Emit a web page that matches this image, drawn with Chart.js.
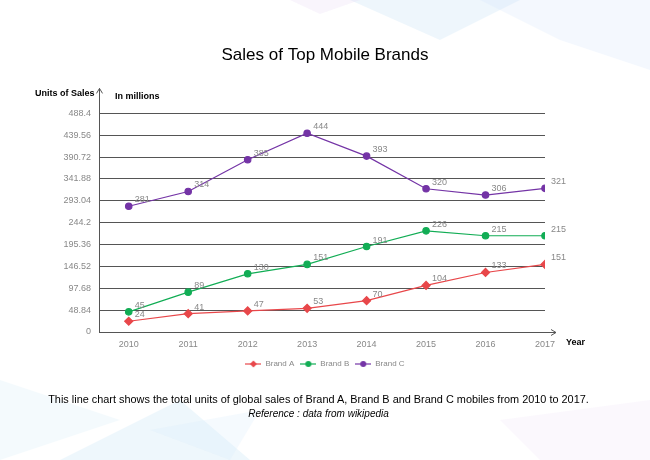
<!DOCTYPE html>
<html><head><meta charset="utf-8">
<script src="https://cdn.jsdelivr.net/npm/chart.js@4"></script>
<style>
html,body{margin:0;padding:0;background:#fff;}
#wrap{position:relative;width:650px;height:460px;overflow:hidden;}
#c{position:absolute;left:0;top:0;}
.lbl{position:absolute;font-family:"Liberation Sans",Arial,sans-serif;color:#000;white-space:nowrap;}
</style></head><body>
<div id="wrap">
<canvas id="c" width="650" height="460"></canvas>
<div class="lbl" style="left:35px;top:88px;font-size:9px;font-weight:bold;">Units of Sales</div>
<div class="lbl" style="left:115px;top:91px;font-size:9px;font-weight:bold;">In millions</div>
<div class="lbl" style="left:566px;top:337px;font-size:9px;font-weight:bold;">Year</div>
<div class="lbl" style="left:0;width:637px;text-align:center;top:393px;font-size:10.9px;">This line chart shows the total units of global sales of Brand A, Brand B and Brand C mobiles from 2010 to 2017.</div>
<div class="lbl" style="left:0;width:637px;text-align:center;top:408px;font-size:10px;font-style:italic;">Reference : data from wikipedia</div>
</div>
<script>
const years = [2010, 2011, 2012, 2013, 2014, 2015, 2016, 2017];
const brandA = [24, 41, 47, 53, 70, 104, 133, 151];
const brandB = [45, 89, 130, 151, 191, 226, 215, 215];
const brandC = [281, 314, 385, 444, 393, 320, 306, 321];
const seriesNames = ['Brand A', 'Brand B', 'Brand C'];
const yTicks = [0, 48.84, 97.68, 146.52, 195.36, 244.2, 293.04, 341.88, 390.72, 439.56, 488.4];
const yTickLabels = ['0', '48.84', '97.68', '146.52', '195.36', '244.2', '293.04', '341.88', '390.72', '439.56', '488.4'];

const colors = ['#e8474a', '#12ad55', '#7434a6'];
const styles = ['rectRot', 'circle', 'circle'];

function makeIcon(color, style) {
  const c = document.createElement('canvas');
  c.width = 16; c.height = 8;
  const x = c.getContext('2d');
  x.strokeStyle = color; x.lineWidth = 1.2;
  x.beginPath(); x.moveTo(0, 4); x.lineTo(16, 4); x.stroke();
  x.fillStyle = color;
  x.beginPath();
  if (style === 'rectRot') { x.moveTo(8, 0.5); x.lineTo(11.5, 4); x.lineTo(8, 7.5); x.lineTo(4.5, 4); x.closePath(); }
  else { x.arc(8, 4, 3, 0, Math.PI * 2); }
  x.fill();
  return c;
}
const icons = colors.map((c, i) => makeIcon(c, styles[i]));

function toPoints(arr) { return years.map((y, i) => ({ x: y, y: arr[i] })); }
const allSeries = [brandA, brandB, brandC];

const bgPlugin = {
  id: 'bg',
  beforeDraw(chart) {
    const ctx = chart.ctx;
    ctx.save();
    ctx.fillStyle = '#ffffff';
    ctx.fillRect(0, 0, chart.width, chart.height);
    const polys = [
      ['rgba(200,225,245,0.30)', [[350,0],[520,0],[440,40]]],
      ['rgba(215,230,250,0.28)', [[480,0],[650,0],[650,70],[560,40]]],
      ['rgba(235,220,245,0.28)', [[290,0],[360,0],[320,14]]],
      ['rgba(220,240,250,0.30)', [[0,380],[120,420],[0,460]]],
      ['rgba(200,228,245,0.30)', [[60,460],[180,400],[250,460]]],
      ['rgba(215,235,250,0.25)', [[150,430],[260,410],[230,460]]],
      ['rgba(235,225,245,0.22)', [[500,420],[650,400],[650,460],[540,460]]]
    ];
    polys.forEach(([col, pts]) => {
      ctx.fillStyle = col;
      ctx.beginPath();
      pts.forEach((p, i) => i ? ctx.lineTo(p[0], p[1]) : ctx.moveTo(p[0], p[1]));
      ctx.closePath(); ctx.fill();
    });
    ctx.restore();
  },
  afterDatasetsDraw(chart) {
    const ctx = chart.ctx;
    const a = chart.chartArea;
    ctx.save();
    ctx.strokeStyle = '#555';
    ctx.lineWidth = 1;
    const x0 = Math.round(a.left) + 0.5, y0 = Math.round(a.bottom) + 0.5;
    ctx.beginPath();
    ctx.moveTo(x0, y0); ctx.lineTo(x0, a.top - 25);
    ctx.moveTo(x0 - 3, a.top - 20); ctx.lineTo(x0, a.top - 25); ctx.lineTo(x0 + 3, a.top - 20);
    ctx.moveTo(x0, y0); ctx.lineTo(a.right + 11, y0);
    ctx.moveTo(a.right + 6, y0 - 3); ctx.lineTo(a.right + 11, y0); ctx.lineTo(a.right + 6, y0 + 3);
    ctx.stroke();
    ctx.fillStyle = '#888';
    ctx.font = '9px "Liberation Sans", Arial, sans-serif';
    ctx.textBaseline = 'alphabetic';
    chart.data.datasets.forEach((ds, di) => {
      const meta = chart.getDatasetMeta(di);
      meta.data.forEach((p, i) => {
        ctx.fillText(String(allSeries[di][i]), p.x + 6, p.y - 4);
      });
    });
    ctx.restore();
  }
};

new Chart(document.getElementById('c'), {
  type: 'line',
  data: {
    datasets: seriesNames.map((n, i) => ({
      label: n,
      data: toPoints(allSeries[i]),
      borderColor: colors[i],
      backgroundColor: colors[i],
      borderWidth: 1.2,
      pointStyle: styles[i],
      pointRadius: styles[i] === 'rectRot' ? 4 : 3.2,
      pointHoverRadius: 4,
      tension: 0,
      fill: false
    }))
  },
  options: {
    responsive: false,
    animation: false,
    layout: { padding: { top: 45, left: 0, right: 0, bottom: 82 } },
    plugins: {
      title: {
        display: true,
        text: 'Sales of Top Mobile Brands',
        color: '#000',
        font: { family: '"Liberation Sans", Arial, sans-serif', size: 17, weight: 'normal' },
        padding: { top: 0, bottom: 48 }
      },
      legend: {
        position: 'bottom',
        labels: {
          usePointStyle: true,
          pointStyleWidth: 16,
          boxHeight: 8,
          padding: 6,
          color: '#888',
          font: { family: '"Liberation Sans", Arial, sans-serif', size: 8 },
          generateLabels(chart) {
            return Chart.defaults.plugins.legend.labels.generateLabels(chart).map((l, i) => ({ ...l, pointStyle: icons[i], fontColor: '#888' }));
          }
        }
      },
      tooltip: { enabled: false }
    },
    scales: {
      x: {
        type: 'linear',
        min: 2009.5,
        max: 2017,
        afterBuildTicks(s) { s.ticks = years.map(v => ({ value: v })); },
        afterFit(s) { s.height = 22; },
        grid: { display: false, drawTicks: false },
        border: { display: false },
        ticks: {
          color: '#888',
          padding: 7,
          maxRotation: 0,
          autoSkip: false,
          font: { family: '"Liberation Sans", Arial, sans-serif', size: 9 },
          callback: (v) => String(v)
        }
      },
      y: {
        min: 0,
        max: 488.4,
        afterBuildTicks(s) { s.ticks = yTicks.map(v => ({ value: v })); },
        afterFit(s) { s.width = 99; },
        grid: { color: '#555', lineWidth: 1, drawTicks: false },
        border: { display: false },
        ticks: {
          color: '#888',
          padding: 8,
          font: { family: '"Liberation Sans", Arial, sans-serif', size: 9 },
          callback: (v, i) => yTickLabels[i]
        }
      },
      yr: {
        position: 'right',
        display: true,
        afterFit(s) { s.width = 105; },
        grid: { display: false },
        border: { display: false },
        ticks: { display: false }
      }
    }
  },
  plugins: [bgPlugin]
});
</script>
</body></html>
